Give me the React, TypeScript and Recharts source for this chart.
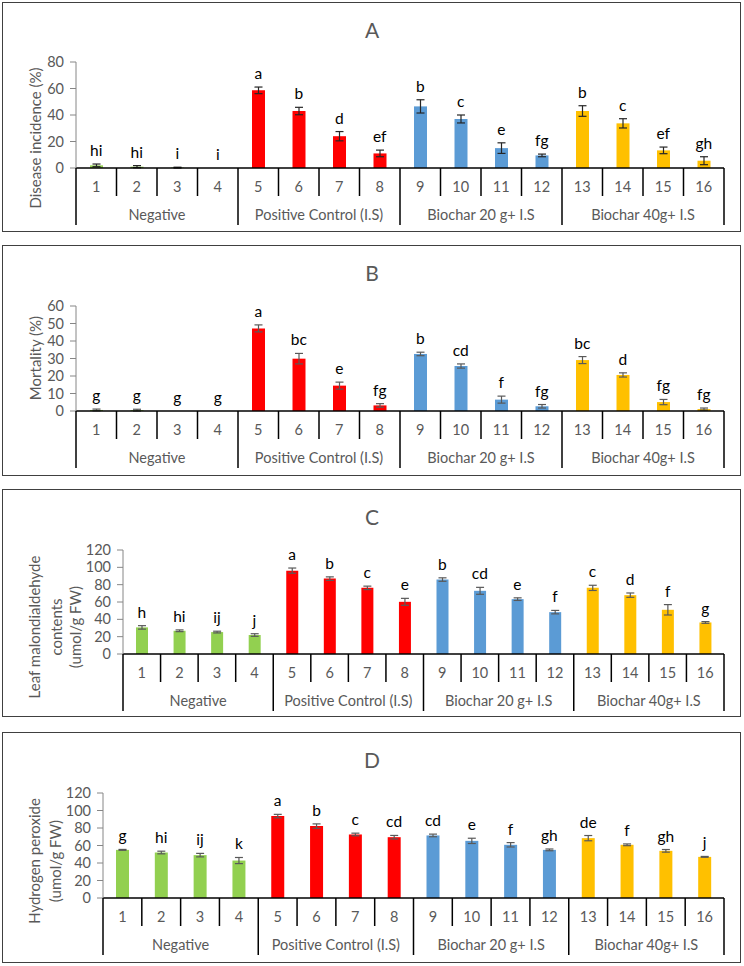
import { ComposedChart, Bar, Line, XAxis, YAxis, ErrorBar, LabelList, Cell } from "recharts";

// treatments and groups
const treatments = ["1", "2", "3", "4", "5", "6", "7", "8", "9", "10", "11", "12", "13", "14", "15", "16"];
const groups = ["Negative", "Positive Control (I.S)", "Biochar 20 g+ I.S", "Biochar 40g+ I.S"];
const groupColors = ["#92D050", "#FF0000", "#5B9BD5", "#FFC000"];

// A - disease incidence
const incidence = [2, 1, 0.3, 0, 58.6, 43, 24, 11, 46.5, 37, 15, 9.5, 43, 33.7, 13.3, 5.5];
const incidenceErr = [1, 0.8, 0.3, 0, 2.5, 2.8, 3.5, 2.5, 5, 3, 4, 1, 4, 3.5, 2.5, 3];
const incidenceSig = ["hi", "hi", "i", "i", "a", "b", "d", "ef", "b", "c", "e", "fg", "b", "c", "ef", "gh"];
const incidenceTicks = [0, 20, 40, 60, 80];

// B - mortality
const mortality = [0.6, 0.5, 0, 0, 47.2, 29.9, 14.5, 3.2, 32.6, 25.7, 6.5, 2.7, 29.1, 20.6, 5.1, 1.1];
const mortalityErr = [0.5, 0.5, 0, 0, 2, 3, 2, 1, 1, 1.2, 2, 1, 2, 1.2, 1.5, 0.6];
const mortalitySig = ["g", "g", "g", "g", "a", "bc", "e", "fg", "b", "cd", "f", "fg", "bc", "d", "fg", "fg"];
const mortalityTicks = [0, 10, 20, 30, 40, 50, 60];

// C - malondialdehyde
const mda = [30.7, 26.8, 25.3, 21.9, 96.2, 87, 76.3, 60.2, 85.9, 72.9, 63.3, 48.3, 76.3, 67.9, 51, 36.4];
const mdaErr = [2, 1, 1, 1.5, 3, 2, 2, 4, 2, 4, 1.5, 2, 3, 2.5, 6, 1];
const mdaSig = ["h", "hi", "ij", "j", "a", "b", "c", "e", "b", "cd", "e", "f", "c", "d", "f", "g"];
const mdaTicks = [0, 20, 40, 60, 80, 100, 120];

// D - hydrogen peroxide
const h2o2 = [55, 52, 49, 42.8, 93.6, 82.2, 72.6, 69.5, 71.5, 65.3, 60.8, 55, 68.4, 60.8, 53.9, 47];
const h2o2Err = [0.5, 1.5, 2, 3.5, 2, 2.5, 1.5, 2, 1.5, 3, 2.5, 1, 3, 1, 1.5, 0.5];
const h2o2Sig = ["g", "hi", "ij", "k", "a", "b", "c", "cd", "cd", "e", "f", "gh", "de", "f", "gh", "j"];
const h2o2Ticks = [0, 20, 40, 60, 80, 100, 120];

const FONT = "Lato, 'Open Sans', sans-serif";
const PLOT_RIGHT = 724;
const Y_W = 40;

function buildRows(values: number[], errs: number[], sigs: string[]) {
  return treatments.map((t, i) => ({
    name: t,
    value: values[i],
    err: errs[i],
    top: values[i] + errs[i],
    sig: sigs[i],
  }));
}

interface PanelProps {
  title: string;
  top: number;
  height: number;
  left: number;
  plotTop: number;
  plotBottom: number;
  ticks: number[];
  rows: any[];
  barSize: number;
  errColor: string;
  yLabel: string[];
  yLabelX: number[];
  yLabelCy: number;
}

function Panel(p: PanelProps) {
  const bw = (PLOT_RIGHT - p.left) / treatments.length;
  const axisBottom = p.height - (p.plotBottom - p.top);
  const renderTick = (props: any) => {
    const { x, y, index, payload } = props;
    const isGroupStart = index % 4 === 0;
    return (
      <g>
        <text x={x} y={y + 24} textAnchor="middle" fontSize={14.5} fill="#595959" fontFamily={FONT}>
          {payload.value}
        </text>
        <line x1={x - bw / 2} y1={y} x2={x - bw / 2} y2={y + (isGroupStart ? 57 : 28)} stroke="#000" strokeWidth={1.5} />
        {index === treatments.length - 1 && (
          <line x1={x + bw / 2} y1={y} x2={x + bw / 2} y2={y + 57} stroke="#000" strokeWidth={1.5} />
        )}
        {index % 4 === 1 && (
          <text x={x + bw / 2} y={y + 52} textAnchor="middle" fontSize={14.5} fill="#595959" fontFamily={FONT}>
            {groups[Math.floor(index / 4)]}
          </text>
        )}
      </g>
    );
  };

  return (
    <>
      <div
        style={{
          position: "absolute",
          left: 2,
          top: p.top,
          width: 739,
          height: p.height,
          border: "1.5px solid #404040",
          boxSizing: "border-box",
          background: "#fff",
        }}
      />
      <div style={{ position: "absolute", left: 0, top: p.top }}>
        <ComposedChart
          width={744}
          height={p.height}
          data={p.rows}
          margin={{ top: p.plotTop - p.top, right: 744 - PLOT_RIGHT, bottom: axisBottom - 60, left: p.left - Y_W }}
        >
          <XAxis
            dataKey="name"
            height={60}
            interval={0}
            tickSize={0}
            tickMargin={0}
            tickLine={false}
            axisLine={{ stroke: "#000", strokeWidth: 1.5 }}
            tick={renderTick}
          />
          <YAxis
            width={Y_W}
            domain={[0, p.ticks[p.ticks.length - 1]]}
            ticks={p.ticks}
            interval={0}
            tickSize={6}
            tickMargin={6}
            axisLine={{ stroke: "#868686" }}
            tickLine={{ stroke: "#868686" }}
            tick={{ fill: "#595959", fontSize: 14.5, fontFamily: FONT }}
          />
          <Bar dataKey="value" barSize={p.barSize} isAnimationActive={false}>
            {p.rows.map((_, i) => (
              <Cell key={i} fill={groupColors[Math.floor(i / 4)]} />
            ))}
            <ErrorBar dataKey="err" width={4} stroke={p.errColor} strokeWidth={1.2} />
          </Bar>
          <Line dataKey="top" stroke="none" dot={false} activeDot={false} legendType="none" isAnimationActive={false}>
            <LabelList dataKey="sig" position="top" offset={8} fill="#000" fontSize={15.5} fontFamily={FONT} />
          </Line>
        </ComposedChart>
      </div>
      <svg style={{ position: "absolute", left: 0, top: p.top, pointerEvents: "none" }} width={744} height={p.height}>
        <text x={372} y={27} textAnchor="middle" dominantBaseline="central" fontSize={21} fill="#595959" fontFamily={FONT}>
          {p.title}
        </text>
        {p.yLabel.map((line, i) => (
          <text
            key={i}
            x={p.yLabelX[i]}
            y={p.yLabelCy - p.top}
            transform={`rotate(-90 ${p.yLabelX[i]} ${p.yLabelCy - p.top})`}
            textAnchor="middle"
            dominantBaseline="central"
            fontSize={15}
            fill="#595959"
            fontFamily={FONT}
          >
            {line}
          </text>
        ))}
      </svg>
    </>
  );
}

export default function App() {
  return (
    <div style={{ position: "absolute", left: 0, top: 0, width: 744, height: 966, background: "#fff" }}>
      <Panel
        title="A"
        top={2}
        height={230}
        left={76}
        plotTop={62}
        plotBottom={168}
        ticks={incidenceTicks}
        rows={buildRows(incidence, incidenceErr, incidenceSig)}
        barSize={13}
        errColor="#262626"
        yLabel={["Disease incidence (%)"]}
        yLabelX={[35]}
        yLabelCy={138}
      />
      <Panel
        title="B"
        top={245}
        height={231}
        left={76}
        plotTop={306}
        plotBottom={411}
        ticks={mortalityTicks}
        rows={buildRows(mortality, mortalityErr, mortalitySig)}
        barSize={13}
        errColor="#595959"
        yLabel={["Mortality (%)"]}
        yLabelX={[35]}
        yLabelCy={358}
      />
      <Panel
        title="C"
        top={489}
        height={228}
        left={123}
        plotTop={550}
        plotBottom={654}
        ticks={mdaTicks}
        rows={buildRows(mda, mdaErr, mdaSig)}
        barSize={12}
        errColor="#595959"
        yLabel={["Leaf malondialdehyde", "contents", "(umol/g FW)"]}
        yLabelX={[34, 56, 75]}
        yLabelCy={627}
      />
      <Panel
        title="D"
        top={732}
        height={231}
        left={103}
        plotTop={793}
        plotBottom={898}
        ticks={h2o2Ticks}
        rows={buildRows(h2o2, h2o2Err, h2o2Sig)}
        barSize={13}
        errColor="#595959"
        yLabel={["Hydrogen peroxide", "(umol/g FW)"]}
        yLabelX={[34, 55]}
        yLabelCy={861}
      />
    </div>
  );
}
